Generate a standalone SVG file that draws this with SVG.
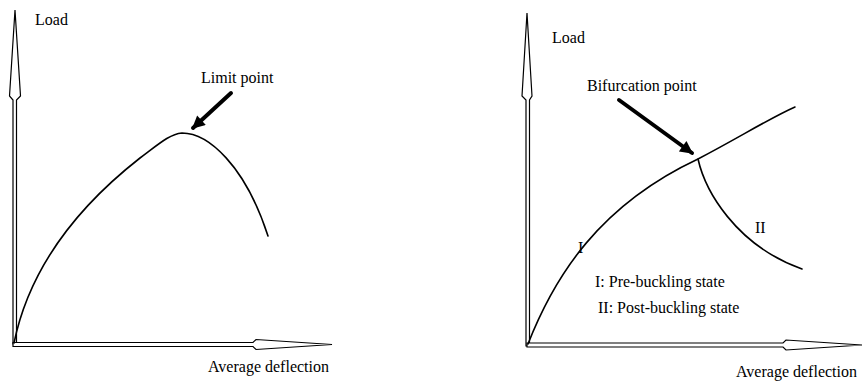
<svg xmlns="http://www.w3.org/2000/svg" width="863" height="381" viewBox="0 0 863 381">
<style>
.t{font-family:'Liberation Serif','DejaVu Serif',serif;font-size:16px;fill:#000}
.axis{fill:#fff;stroke:#000;stroke-width:1.2;stroke-linejoin:miter}
.curve{fill:none;stroke:#000;stroke-width:1.6;stroke-linecap:round}
.ptr{stroke:#000;stroke-width:4;stroke-linecap:round}
</style>
<defs>
<marker id="ah" viewBox="0 0 10 10" refX="9" refY="5" markerWidth="3.6" markerHeight="3.2" orient="auto" markerUnits="strokeWidth">
<path d="M0,0 L10,5 L0,10 Z" fill="#000"/>
</marker>
</defs>
<rect width="863" height="381" fill="#fff"/>
<g id="left-chart">
<g id="left-axes">
<path class="axis" d="M13,344 L13,100 L9.5,96 L15,10 L20.5,96 L16.5,100 L16.5,344 Z"/>
<path class="axis" d="M13,342.5 L253,342.5 L256,339.5 L332,344.5 L256,349.5 L253,346.5 L13,346.5 Z"/>
</g>
<g id="left-curve"><path class="curve" d="M14,343 C30,265 80,205 140,158 C160,143 170,134 182,133 C208,133 245,165 268,236"/></g>
<g id="left-labels">
<text class="t" x="35" y="25">Load</text>
<text class="t" x="201" y="83">Limit point</text>
<text class="t" x="208" y="372">Average deflection</text>
</g>
</g>
<g id="right-chart">
<g id="right-axes">
<path class="axis" d="M526,346 L526,100 L522,96 L527,13 L532,96 L529.5,100 L529.5,346 Z"/>
<path class="axis" d="M527,343 L783,343 L786,340 L862,345 L786,350 L783,347 L527,347 Z"/>
</g>
<g id="right-curves">
<path class="curve" d="M528,344 C555,275 600,205 698,159 C740,137 770,118 795,107"/>
<path class="curve" d="M698,159 C705,190 735,245 802,269"/>
</g>
<g id="right-labels">
<text class="t" x="578" y="253">I</text>
<text class="t" x="755" y="233">II</text>
<text class="t" x="552" y="43">Load</text>
<text class="t" x="587" y="91">Bifurcation point</text>
<text class="t" x="595" y="287">I: Pre-buckling state</text>
<text class="t" x="598" y="313">II: Post-buckling state</text>
<text class="t" x="736" y="377">Average deflection</text>
</g>
</g>
<g id="connectors">
<line class="ptr" x1="231" y1="93" x2="193" y2="128" marker-end="url(#ah)"/>
<line class="ptr" x1="619" y1="100" x2="692" y2="153" marker-end="url(#ah)"/>
</g>
</svg>
